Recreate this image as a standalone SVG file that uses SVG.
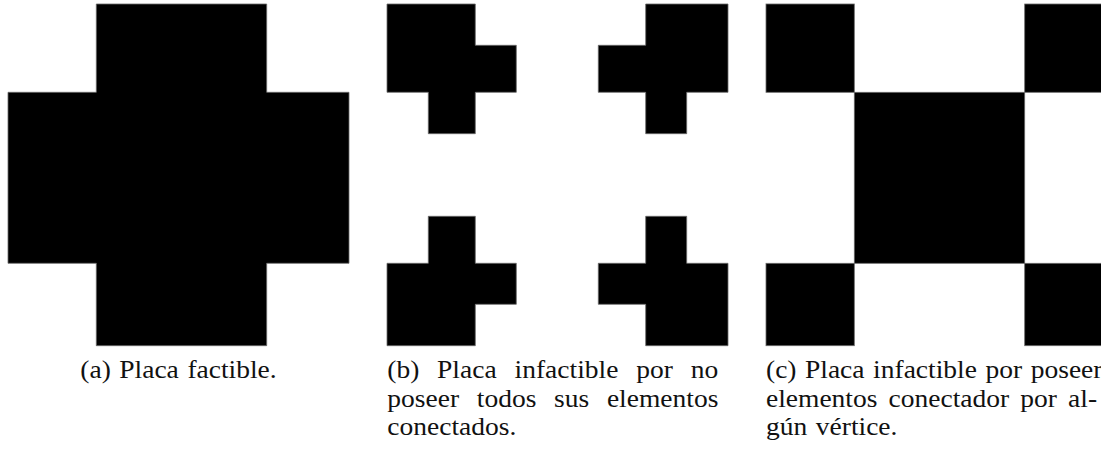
<svg xmlns="http://www.w3.org/2000/svg" width="1101" height="449" viewBox="0 0 1101 449">
  <style>
    .cell { fill: #000; stroke: #6a6a6a; stroke-width: 0.8; }
    .cap { font-family: "Liberation Serif", "DejaVu Serif", serif; font-size: 25px; fill: #111; }
  </style>
  <rect width="1101" height="449" fill="#fff"/>

  <!-- (a) feasible plate: one connected cross -->
  <g id="plate-a">
    <polygon class="cell" points="96.3,4 266.7,4 266.7,92.3 349,92.3 349,263.3 266.7,263.3 266.7,345.7 96.3,345.7 96.3,263.3 8,263.3 8,92.3 96.3,92.3"/>
    <!-- caption lines are widened a little (scale 1.1) to get the roman caption proportions -->
    <text class="cap" transform="translate(80.3,378) scale(1.1,1)">
      <tspan x="0">(a)</tspan><tspan x="35.45">Placa</tspan><tspan x="97.36">factible.</tspan>
    </text>
  </g>

  <!-- (b) four disconnected pieces -->
  <g id="plate-b">
    <polygon class="cell" points="387,4 475.3,4 475.3,45.3 516.3,45.3 516.3,92.3 475.3,92.3 475.3,133.7 428.3,133.7 428.3,92.3 387,92.3"/>
    <polygon class="cell" points="645.7,4 728,4 728,92.3 686.7,92.3 686.7,133.7 645.7,133.7 645.7,92.3 598.3,92.3 598.3,45.3 645.7,45.3"/>
    <polygon class="cell" points="428.3,216.3 475.3,216.3 475.3,263.3 516.3,263.3 516.3,304.3 475.3,304.3 475.3,345.7 387,345.7 387,263.3 428.3,263.3"/>
    <polygon class="cell" points="645.7,216.3 686.7,216.3 686.7,263.3 728,263.3 728,345.7 645.7,345.7 645.7,304.3 598.3,304.3 598.3,263.3 645.7,263.3"/>
    <text class="cap" transform="translate(387.3,378) scale(1.1,1)">
      <tspan x="0">(b)</tspan><tspan x="45.27">Placa</tspan><tspan x="115.73">infactible</tspan><tspan x="226.36">por</tspan><tspan x="275.91">no</tspan>
    </text>
    <text class="cap" transform="translate(387.3,406.5) scale(1.1,1)">
      <tspan x="0">poseer</tspan><tspan x="81.36">todos</tspan><tspan x="151.64">sus</tspan><tspan x="199.64">elementos</tspan>
    </text>
    <text class="cap" transform="translate(387.3,434.5) scale(1.1,1)">conectados.</text>
  </g>

  <!-- (c) pieces touching only at corners -->
  <g id="plate-c">
    <rect class="cell" x="766" y="4" width="88.3" height="88.3"/>
    <rect class="cell" x="1024.7" y="4" width="80" height="88.3"/>
    <rect class="cell" x="854.3" y="92.3" width="170.4" height="171"/>
    <rect class="cell" x="766" y="263.3" width="88.3" height="82.4"/>
    <rect class="cell" x="1024.7" y="263.3" width="80" height="82.4"/>
    <text class="cap" transform="translate(766,378) scale(1.1,1)">
      <tspan x="0">(c)</tspan><tspan x="35.45">Placa</tspan><tspan x="97.36">infactible</tspan><tspan x="199.55">por</tspan><tspan x="240.64">poseer</tspan>
    </text>
    <text class="cap" transform="translate(766,406.5) scale(1.1,1)">
      <tspan x="0">elementos</tspan><tspan x="111.45">conectador</tspan><tspan x="231.18">por</tspan><tspan x="274.64">al-</tspan>
    </text>
    <text class="cap" transform="translate(766,434.5) scale(1.1,1)">
      <tspan x="0">gún</tspan><tspan x="45.27">vértice.</tspan>
    </text>
  </g>
</svg>
